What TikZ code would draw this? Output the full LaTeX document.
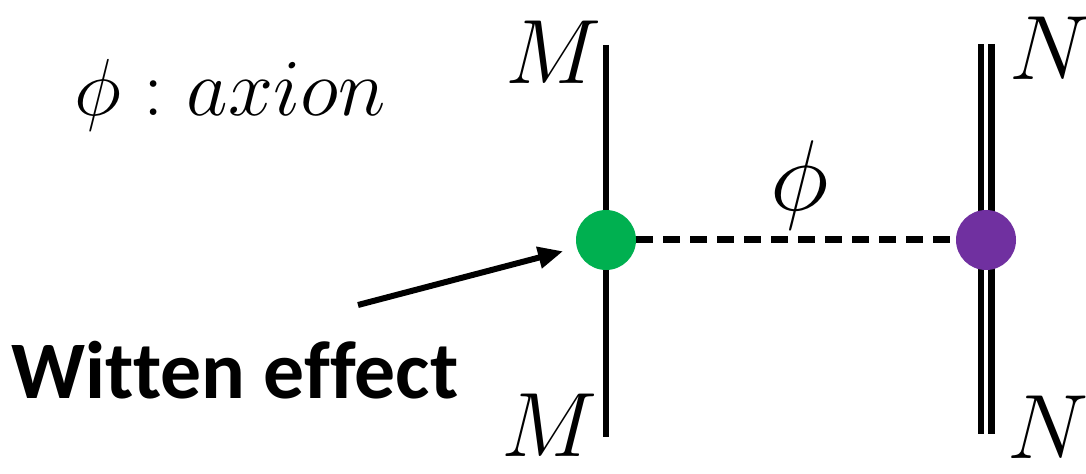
\documentclass[tikz,border=0pt]{standalone}
\usepackage{amsmath}
\usepackage{fontspec}
\setsansfont{Carlito}[Ligatures=NoCommon]
\usetikzlibrary{positioning, arrows.meta}
\definecolor{vgreen}{HTML}{00B050}
\definecolor{vpurple}{HTML}{7030A0}
\tikzset{
  vertex/.style={circle, inner sep=0pt, minimum size=1.2cm},
  leg/.style   ={line width=0.13cm},
  field/.style ={font=\Huge, scale=2.09},
}

\begin{document}
\begin{tikzpicture}[>={Triangle[length=0.5cm, width=0.42cm]}]
  \useasboundingbox (0,0) rectangle (21.72,-9.48);

  % external legs
  \coordinate (Mtop) at (12.12,-0.9);
  \coordinate (Mbot) at (12.12,-8.74);
  \coordinate (Ntop) at (19.72,-0.88);
  \coordinate (Nbot) at (19.72,-8.68);
  \draw[leg] (Mtop) -- (Mbot);
  \draw[leg, double, double distance=0.08cm] (Ntop) -- (Nbot);

  \node[vertex, fill=vgreen]  (mvert) at (12.12,-4.8) {};
  \node[vertex, fill=vpurple] (nvert) at (19.72,-4.8) {};

  \node[field] (Mup)  at (11.08,-1.04) {$M$};
  \node[field] (Mdn)  at (11.0,-8.5)   {$M$};
  \node[field] (Nup)  at (21.0,-0.96)  {$N$};
  \node[field] (Ndn)  at (20.96,-8.55) {$N$};

  % axion propagator
  \draw[line width=0.14cm, dash pattern=on 0.34cm off 0.2cm] (mvert) -- (nvert);
  \node[font=\Huge, scale=2.3] (phi) at (16.0,-3.7) {$\phi$};

  \node[font=\Huge, scale=1.85] (legend) at (4.6,-1.9) {$\phi : axion$};

  \node[font=\sffamily\bfseries\fontsize{46.5}{46.5}\selectfont] (witten) at (4.7,-7.4) {Witten effect};
  \coordinate (tail) at (7.16,-6.1);
  \draw[->, line width=0.12cm, shorten >=0.28cm] (tail) -- (mvert);
\end{tikzpicture}
\end{document}
